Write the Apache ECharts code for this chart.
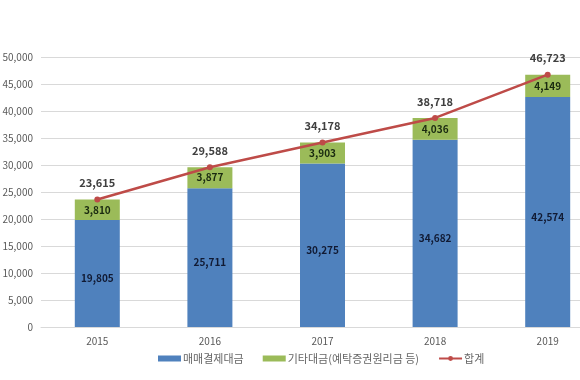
<!DOCTYPE html>
<html>
<head>
<meta charset="utf-8">
<script src="https://cdn.jsdelivr.net/npm/echarts@6/dist/echarts.min.js"></script>
<style>
html,body{margin:0;padding:0;background:#fff;}
#c{width:580px;height:380px;}
</style>
</head>
<body>
<div id="c"></div>
<script>
var categories = ['2015', '2016', '2017', '2018', '2019'];
var settlement = [19805, 25711, 30275, 34682, 42574];
var others = [3810, 3877, 3903, 4036, 4149];
var totals = [23615, 29588, 34178, 38718, 46723];
var seriesNames = ['매매결제대금', '기타대금(예탁증권원리금 등)', '합계'];

var fmt = function (v) { return Number(v).toLocaleString('en-US'); };
var font = "'Noto Sans CJK KR', 'Noto Sans', sans-serif";

var chart = echarts.init(document.getElementById('c'), null, {renderer: 'canvas'});
chart.setOption({
  animation: false,
  textStyle: {fontFamily: font},
  grid: {left: 41, width: 563, top: 57, height: 270, outerBoundsMode: 'none', containLabel: false},
  legend: {
    left: 153, top: 348,
    itemWidth: 23, itemHeight: 6, itemGap: 19,
    textStyle: {fontFamily: font, fontSize: 11, color: '#666666', padding: [0, 0, 0, -3]},
    data: [
      {name: seriesNames[0], icon: 'rect'},
      {name: seriesNames[1], icon: 'rect'},
      {name: seriesNames[2]}
    ]
  },
  xAxis: {
    type: 'category', data: categories,
    axisLine: {show: true, lineStyle: {color: '#d9d9d9'}},
    axisTick: {show: false},
    axisLabel: {color: '#595959', fontSize: 10, margin: 9, fontFamily: font}
  },
  yAxis: {
    type: 'value', min: 0, max: 50000, interval: 5000,
    axisLine: {show: false}, axisTick: {show: false},
    splitLine: {lineStyle: {color: '#d9d9d9', width: 1}},
    axisLabel: {color: '#595959', fontSize: 10, margin: 8, fontFamily: font, formatter: fmt}
  },
  series: [
    {
      name: seriesNames[0], type: 'bar', stack: 's', data: settlement,
      barWidth: 45,
      itemStyle: {color: '#4f81bd'},
      label: {show: true, position: 'inside', offset: [0, 5], color: '#111a33', fontSize: 10, fontWeight: 'bold', fontFamily: font,
        formatter: function (p) { return fmt(p.value); }}
    },
    {
      name: seriesNames[1], type: 'bar', stack: 's', data: others,
      barWidth: 45,
      itemStyle: {color: '#9bbb59'},
      label: {show: true, position: 'inside', color: '#1a2a10', fontSize: 10, fontWeight: 'bold', fontFamily: font,
        formatter: function (p) { return fmt(p.value); }}
    },
    {
      name: seriesNames[2], type: 'line', data: totals,
      symbol: 'circle', symbolSize: 6,
      lineStyle: {color: '#be4b48', width: 2.5},
      itemStyle: {color: '#be4b48'},
      label: {show: true, position: 'top', distance: 8, color: '#404040', fontSize: 11, fontWeight: 'bold', fontFamily: font,
        formatter: function (p) { return fmt(p.value); }},
      z: 5
    }
  ]
});
</script>
</body>
</html>
